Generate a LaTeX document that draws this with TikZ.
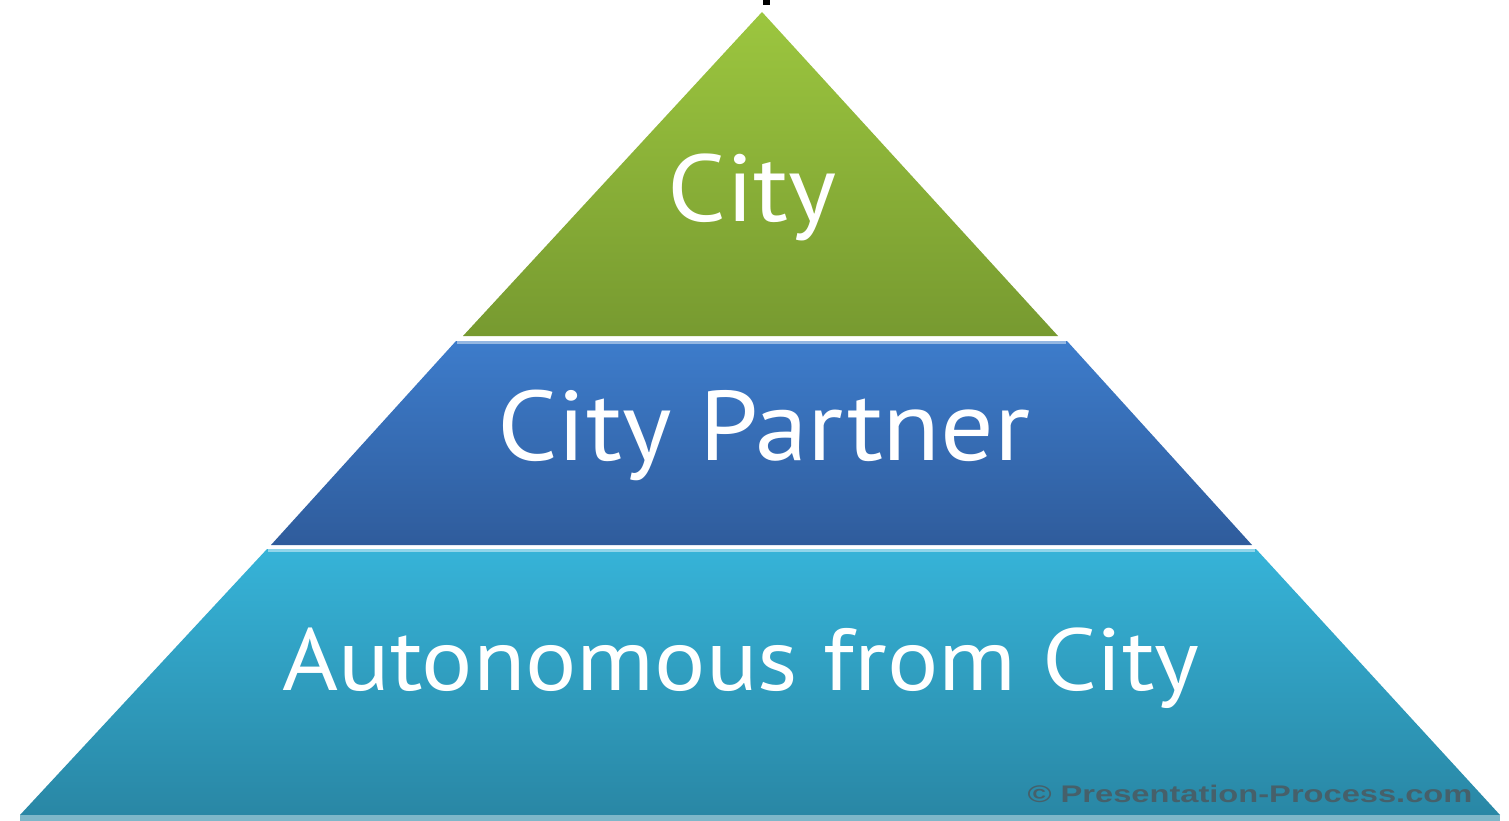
\documentclass[tikz,border=0pt]{standalone}
\usepackage{fontspec}
\setmainfont{PT Sans}
\newfontfamily\wmfont{Liberation Sans}
\definecolor{gTop}{HTML}{9CC63F}
\definecolor{gBot}{HTML}{779A30}
\definecolor{bTop}{HTML}{3D7CCB}
\definecolor{bBot}{HTML}{2F5C9C}
\definecolor{cTop}{HTML}{36B3D8}
\definecolor{cBot}{HTML}{2987A5}
\definecolor{wmcol}{HTML}{46606A}
\tikzset{
  layertext/.style={text=white, anchor=base, inner sep=0pt},
  edgeline/.style={line width=3pt},
}
\begin{document}
\begin{tikzpicture}[x=1pt,y=-1pt]
\useasboundingbox (0,0) rectangle (1509,821);
\fill[white] (0,0) rectangle (1509,821);
% small cut-off mark at top
\fill[black] (763,0) rectangle (770,5);
% top layer
\shade[top color=gTop, bottom color=gBot] (762,12) -- (1058,336) -- (463,336) -- cycle;
% middle layer
\shade[top color=bTop, bottom color=bBot] (456,341) -- (1067,341) -- (1252,545) -- (271,545) -- cycle;
\draw[edgeline, color=bTop!55!white] (457,342.5) -- (1066,342.5);
% bottom layer
\shade[top color=cTop, bottom color=cBot] (267,549) -- (1256,549) -- (1500,815) -- (20,815) -- cycle;
\draw[edgeline, color=cTop!55!white] (268,550.5) -- (1255,550.5);
\fill[cBot!60!white] (20,815) rectangle (1500,821);
% texts
\node[layertext, font=\fontsize{95}{95}\selectfont] (t1) at (752,222) {\scalebox{1.085}[1]{City}};
\node[layertext, font=\fontsize{99}{99}\selectfont] (t2) at (764,460) {\scalebox{1.07}[1]{City Partner}};
\node[layertext, font=\fontsize{88}{88}\selectfont] (t3) at (741,690) {\scalebox{1.09}[1]{Autonomous from City}};
\node[text=wmcol, anchor=base, inner sep=0pt, font=\wmfont\bfseries\fontsize{24}{24}\selectfont] (wm) at (1250,802) {\scalebox{1.36}[1]{© Presentation-Process.com}};
\end{tikzpicture}
\end{document}
